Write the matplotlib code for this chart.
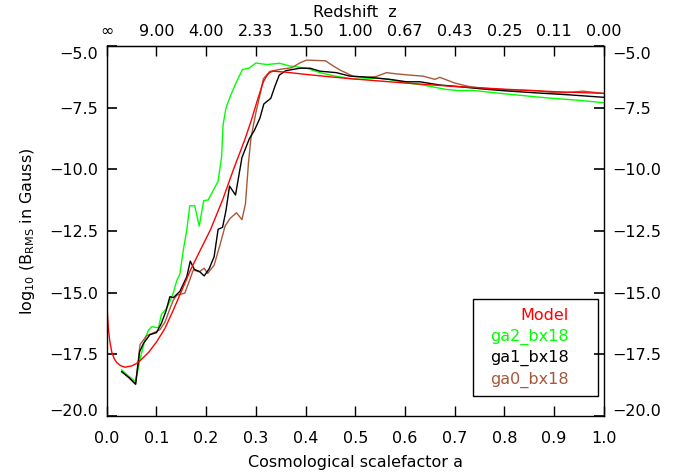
import matplotlib
matplotlib.use("Agg")
import matplotlib.pyplot as plt
from matplotlib.patches import Rectangle
from matplotlib.transforms import ScaledTranslation

# Analytic model of the RMS field
a_model = [0.0, 0.003, 0.006, 0.01, 0.015, 0.02, 0.028, 0.037, 0.05, 0.06, 0.07,
           0.085, 0.1, 0.117, 0.134, 0.15, 0.168, 0.19, 0.209, 0.233, 0.255, 0.278,
           0.291, 0.303, 0.315, 0.322, 0.328, 0.335, 0.36, 0.4, 0.45, 0.5, 0.6, 0.7,
           0.8, 0.9, 1.0]
logB_model = [-15.4, -16.4, -16.95, -17.4, -17.68, -17.83, -17.96, -18.02, -17.97,
              -17.87, -17.7, -17.4, -17.0, -16.45, -15.7, -14.95, -14.1, -13.2,
              -12.43, -11.24, -10.0, -8.78, -8.0, -7.2, -6.45, -6.2, -6.07, -6.02,
              -6.06, -6.15, -6.25, -6.34, -6.5, -6.64, -6.75, -6.85, -6.92]

# Simulation ga2_bx18
a_ga2 = [0.03, 0.045, 0.058, 0.068, 0.077, 0.083, 0.09, 0.104, 0.11, 0.12, 0.127,
         0.134, 0.141, 0.147, 0.154, 0.161, 0.167, 0.177, 0.186, 0.195, 0.204, 0.224,
         0.231, 0.234, 0.24, 0.248, 0.261, 0.273, 0.286, 0.3, 0.322, 0.348, 0.368,
         0.402, 0.429, 0.455, 0.489, 0.509, 0.543, 0.569, 0.6, 0.636, 0.683, 0.71,
         0.737, 0.797, 0.884, 0.95, 1.0]
logB_ga2 = [-18.13, -18.4, -18.6, -17.6, -16.9, -16.55, -16.38, -16.42, -15.88,
            -15.65, -15.36, -15.0, -14.5, -14.25, -13.27, -12.46, -11.48, -11.47,
            -12.3, -11.27, -11.24, -10.48, -9.49, -8.2, -7.5, -7.06, -6.45, -5.95,
            -5.9, -5.69, -5.75, -5.7, -5.81, -5.9, -6.08, -6.2, -6.32, -6.35, -6.3,
            -6.36, -6.48, -6.58, -6.76, -6.81, -6.8, -6.93, -7.1, -7.2, -7.3]

# Simulation ga1_bx18
a_ga1 = [0.03, 0.045, 0.058, 0.066, 0.074, 0.087, 0.1, 0.11, 0.119, 0.127, 0.134,
         0.147, 0.161, 0.168, 0.176, 0.187, 0.196, 0.206, 0.216, 0.224, 0.233, 0.24,
         0.247, 0.259, 0.272, 0.287, 0.297, 0.308, 0.316, 0.33, 0.338, 0.347, 0.36,
         0.389, 0.409, 0.429, 0.462, 0.489, 0.523, 0.569, 0.603, 0.63, 0.67, 0.71,
         0.75, 0.797, 0.864, 0.931, 1.0]
logB_ga1 = [-18.2, -18.45, -18.71, -17.4, -17.05, -16.7, -16.62, -16.24, -15.75,
            -15.16, -15.2, -14.95, -14.35, -13.72, -14.05, -14.15, -14.32, -14.03,
            -13.54, -12.43, -12.35, -11.65, -10.68, -11.04, -9.52, -8.75, -8.42,
            -7.93, -7.35, -7.12, -6.65, -6.18, -6.0, -5.9, -5.9, -6.02, -6.08, -6.22,
            -6.26, -6.35, -6.45, -6.45, -6.58, -6.65, -6.73, -6.81, -6.9, -6.98, -7.08]

# Simulation ga0_bx18
a_ga0 = [0.03, 0.045, 0.058, 0.067, 0.08, 0.097, 0.107, 0.117, 0.127, 0.134, 0.141,
         0.157, 0.167, 0.174, 0.186, 0.196, 0.203, 0.216, 0.228, 0.238, 0.248, 0.261,
         0.272, 0.279, 0.285, 0.29, 0.3, 0.308, 0.315, 0.328, 0.35, 0.372, 0.389,
         0.402, 0.44, 0.455, 0.469, 0.496, 0.523, 0.541, 0.563, 0.583, 0.61, 0.636,
         0.66, 0.67, 0.7, 0.73, 0.764, 0.81, 0.864, 0.905, 0.925, 0.958, 1.0]
logB_ga0 = [-18.2, -18.45, -18.71, -17.1, -16.75, -16.6, -16.5, -16.2, -15.65, -15.3,
            -15.1, -15.02, -14.48, -14.08, -14.15, -14.01, -14.22, -13.88, -13.05,
            -12.3, -11.99, -11.76, -12.04, -11.4, -9.76, -8.75, -7.7, -7.0, -6.33,
            -6.03, -5.94, -5.88, -5.68, -5.57, -5.6, -5.8, -5.97, -6.23, -6.27, -6.24,
            -6.08, -6.13, -6.18, -6.22, -6.35, -6.27, -6.5, -6.65, -6.72, -6.78, -6.81,
            -6.9, -6.89, -6.83, -6.92]

x_ticks = [0.0, 0.1, 0.2, 0.3, 0.4, 0.5, 0.6, 0.7, 0.8, 0.9, 1.0]
x_labels = ["0.0", "0.1", "0.2", "0.3", "0.4", "0.5", "0.6", "0.7", "0.8", "0.9", "1.0"]
z_labels = ["\u221e", "9.00", "4.00", "2.33", "1.50", "1.00", "0.67", "0.43", "0.25",
            "0.11", "0.00"]
y_ticks = [-20.0, -17.5, -15.0, -12.5, -10.0, -7.5, -5.0]
y_labels = ["\u221220.0", "\u221217.5", "\u221215.0", "\u221212.5", "\u221210.0",
            "\u22127.5", "\u22125.0"]

series_names = ["Model", "ga2_bx18", "ga1_bx18", "ga0_bx18"]
series_colors = ["#ff0000", "#00ff00", "#000000", "#a8583a"]

plt.rcParams["font.family"] = ["DejaVu Sans"]
fs = 11.5

fig = plt.figure(figsize=(6.8, 4.72), dpi=100)
ax = fig.add_axes([0.157, 0.1186, 0.731, 0.7839])

ax.plot(a_ga2, logB_ga2, color=series_colors[1], lw=1.0)
ax.plot(a_ga0, logB_ga0, color=series_colors[3], lw=1.0)
ax.plot(a_ga1, logB_ga1, color=series_colors[2], lw=1.0)
ax.plot(a_model, logB_model, color=series_colors[0], lw=1.0)

ax.set_xlim(0.0, 1.0)
ax.set_ylim(-20.0, -5.0)
ax.set_xticks(x_ticks)
ax.set_xticklabels(x_labels, fontsize=fs)
ax.set_yticks(y_ticks)
ax.set_yticklabels(y_labels, fontsize=fs)
ax.tick_params(axis="x", direction="in", length=7, width=1.0, pad=11, bottom=True, top=False)
ax.tick_params(axis="y", direction="in", length=7, width=1.2, pad=6, left=True, right=True,
               labelleft=True, labelright=True)
for s in ax.spines.values():
    s.set_linewidth(1.0)

# end labels of the value axis are nudged inside the frame
yticks = ax.yaxis.get_major_ticks()
shift_up = ScaledTranslation(0, 6 / 100, fig.dpi_scale_trans)
shift_down = ScaledTranslation(0, -7 / 100, fig.dpi_scale_trans)
for lab in (yticks[0].label1, yticks[0].label2):
    lab.set_transform(lab.get_transform() + shift_up)
for lab in (yticks[-1].label1, yticks[-1].label2):
    lab.set_transform(lab.get_transform() + shift_down)

ax.set_xlabel("Cosmological scalefactor a", fontsize=fs, labelpad=6)
ax.set_ylabel(r"log$_{10}$ (B$_{\rm RMS}$ in Gauss)", fontsize=fs, labelpad=9)

top = ax.secondary_xaxis("top")
top.set_xticks(x_ticks)
top.set_xticklabels(z_labels, fontsize=fs)
top.tick_params(direction="in", length=7, width=1.0, pad=5)
top.set_xlabel("Redshift  z", fontsize=fs, labelpad=5)

# legend box with right-aligned coloured entries
box = Rectangle((0.736, 0.053), 0.253, 0.262, transform=ax.transAxes,
                fill=False, edgecolor="black", lw=1.0, zorder=5)
ax.add_patch(box)
for i, (name, col) in enumerate(zip(series_names, series_colors)):
    ax.text(0.93, 0.272 - i * 0.058, name, color=col, fontsize=fs,
            ha="right", va="center", transform=ax.transAxes, zorder=6)

fig.savefig("out.png", dpi=100)
